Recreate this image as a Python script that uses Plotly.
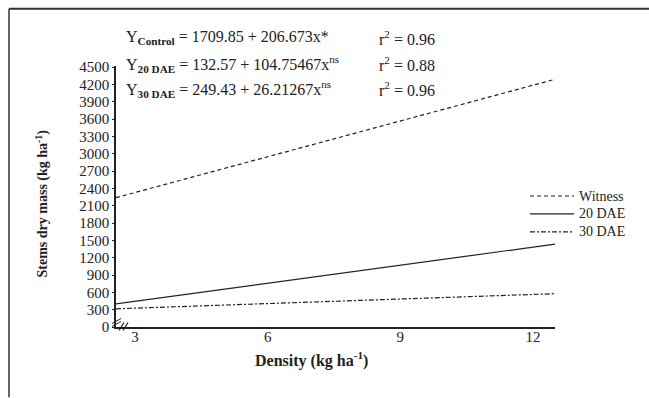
import plotly.graph_objects as go

# Fitted lines over the sampled density span (values read at the ends)
density_ends = [2.57, 12.5]
witness = [2240, 4290]
dae_20 = [400, 1435]
dae_30 = [315, 577]

series_names = ["Witness", "20 DAE", "30 DAE"]
series_values = [witness, dae_20, dae_30]
series_dash = ["4px,3px", "solid", "5px,2px,2px,2px"]

y_ticks = list(range(0, 4501, 300))
x_ticks = [3, 6, 9, 12]

W, H = 649, 398
L, R, T, B = 116, 94, 65.5, 70.5
pw, ph = W - L - R, H - T - B


def px(x):
    return (x - L) / pw


def py(y):
    return (H - B - y) / ph


SERIF = "Liberation Serif, Times New Roman, serif"
TICK_FONT = dict(family=SERIF, size=15, color="#222")

fig = go.Figure()
for name, vals, dash in zip(series_names, series_values, series_dash):
    fig.add_trace(go.Scatter(
        x=density_ends, y=vals, mode="lines", name=name,
        line=dict(color="#222", width=1.2, dash=dash), showlegend=False,
    ))

fig.update_layout(
    width=W, height=H,
    margin=dict(l=L, r=R, t=T, b=B, autoexpand=False),
    paper_bgcolor="white", plot_bgcolor="white",
    font=dict(family=SERIF, size=15, color="#222"),
    showlegend=False,
)
fig.update_xaxes(range=[2.57, 12.5], tickvals=x_ticks, showgrid=False,
                 zeroline=False, showline=True, linecolor="#222", linewidth=1.5,
                 ticks="", ticklabelstandoff=-5, tickfont=TICK_FONT)
fig.update_yaxes(range=[0, 4520], tickvals=y_ticks, showgrid=False,
                 zeroline=False, showline=True, linecolor="#222", linewidth=1.5,
                 ticks="outside", ticklen=2, tickcolor="#222", tickfont=TICK_FONT)

ann = []
shapes = []

# axis titles
ann.append(dict(text="<b>Density (kg ha<sup>-1</sup>)</b>", x=px(311), y=py(373),
                xref="paper", yref="paper", showarrow=False,
                font=dict(family=SERIF, size=16)))
ann.append(dict(text="<b>Stems dry mass (kg ha<sup>-1</sup>)</b>", x=px(31), y=py(204),
                xref="paper", yref="paper", showarrow=False, textangle=-90,
                font=dict(family=SERIF, size=14)))

# regression equations
eqs = [
    ("Y<sub><b>Control</b></sub> = 1709.85 + 206.673x*", "r<sup>2</sup> = 0.96", 37),
    ("Y<sub><b>20 DAE</b></sub> = 132.57 + 104.75467x<sup>ns</sup>", "r<sup>2</sup> = 0.88", 63),
    ("Y<sub><b>30 DAE</b></sub> = 249.43 + 26.21267x<sup>ns</sup>", "r<sup>2</sup> = 0.96", 89),
]
for eq, r2, yy in eqs:
    ann.append(dict(text=eq, x=px(124), y=py(yy), xref="paper", yref="paper",
                    xanchor="left", yanchor="middle", showarrow=False,
                    font=dict(family=SERIF, size=16)))
    ann.append(dict(text=r2, x=px(377), y=py(yy), xref="paper", yref="paper",
                    xanchor="left", yanchor="middle", showarrow=False,
                    font=dict(family=SERIF, size=16)))

# legend: line sample + label per series
for i, (name, dash) in enumerate(zip(series_names, series_dash)):
    yy = 196 + 18 * i
    shapes.append(dict(type="line", xref="paper", yref="paper",
                       x0=px(530), x1=px(574), y0=py(yy), y1=py(yy),
                       line=dict(color="#222", width=1.2, dash=dash)))
    ann.append(dict(text=name, x=px(577), y=py(yy), xref="paper", yref="paper",
                    xanchor="left", yanchor="middle", showarrow=False,
                    font=dict(family=SERIF, size=14)))

# outer frame (top and left edges)
shapes.append(dict(type="line", xref="paper", yref="paper",
                   x0=px(9), x1=px(W), y0=py(8), y1=py(8),
                   line=dict(color="#333", width=2)))
shapes.append(dict(type="line", xref="paper", yref="paper",
                   x0=px(9), x1=px(9), y0=py(8), y1=py(H),
                   line=dict(color="#333", width=1.5)))
# axis break marks near the origin
for dx in (0, 4):
    shapes.append(dict(type="line", xref="paper", yref="paper",
                       x0=px(119 + dx), x1=px(124 + dx), y0=py(331), y1=py(323),
                       line=dict(color="#222", width=1.2)))
for dy in (0, 3):
    shapes.append(dict(type="line", xref="paper", yref="paper",
                       x0=px(112), x1=px(121), y0=py(324 + dy), y1=py(319 + dy),
                       line=dict(color="#222", width=1)))

fig.update_layout(annotations=ann, shapes=shapes)

fig.write_html("out.html")
